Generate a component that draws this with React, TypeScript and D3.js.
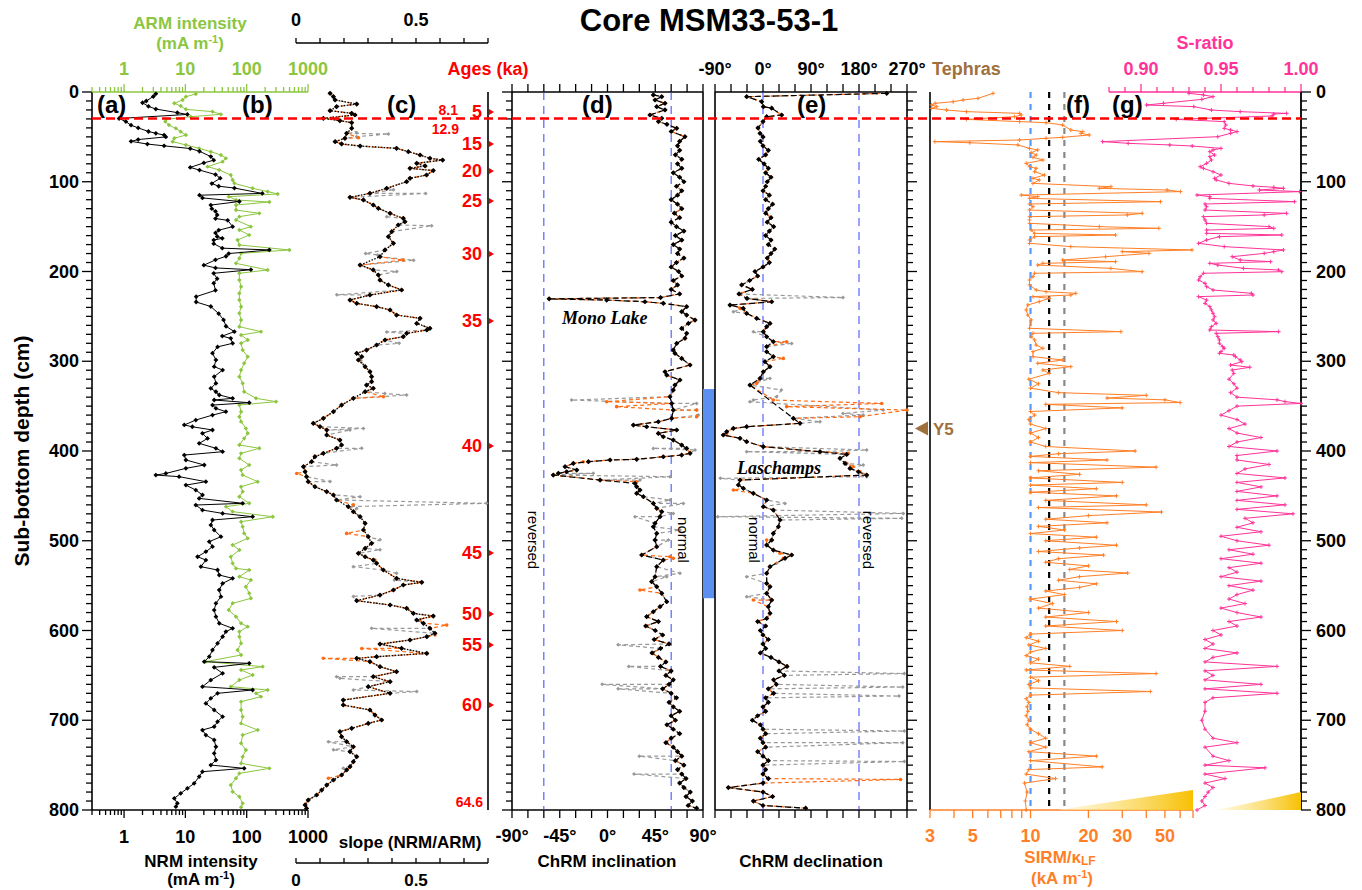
import React from "react";
import * as d3 from "d3";

const FONT = "'Liberation Sans', Arial, sans-serif";

// ---------- DATA (depth cm, value) ----------
const nrmData = [[2,3.3],[5,3.0],[10,2.3],[12,2.0],[16,2.5],[19,3.3],[23,7.4],[25,10.8],[29.5,0.83],[33,1.07],[37,1.3],[40,1.7],[44,2.5],[46,3.3],[48,4.5],[50,4.8],[53,1.7],[55,1.3],[58,2.4],[60,4.5],[63,12],[66,17],[72,26],[76,29],[79,20],[84,12],[87,17],[92,31],[96,37],[102,27],[105,35],[107,63],[113,180],[115,17],[118,19],[122,76],[126,26],[130,27],[133,31],[137,33],[141,31],[143,49],[150,59],[154,35],[157,31],[161,33],[163,40],[165,29],[169,29],[174,40],[176,234],[180,51],[183,46],[187,31],[193,20],[196,31],[198,117],[202,29],[208,33],[213,29],[221,31],[228,15],[234,15],[239,26],[247,35],[254,42],[261,46],[267,63],[272,40],[274.5,55],[280,59],[284,33.5],[291,27.7],[298.6,31.5],[306,29.5],[309.8,40.5],[317.2,29.5],[324.6,31.5],[330.2,26],[334,31.5],[337.6,35.7],[341.3,59],[343.2,29.5],[346.2,110],[348.8,27.7],[352.5,31.5],[356.2,45.8],[360,27.7],[365.5,14.8],[371,9.6],[373,13],[376.6,27.7],[380.3,19],[386,23],[391.5,16.8],[397,31.5],[400.8,40.5],[404.5,9.6],[410,10.2],[415.6,20.3],[419.3,10.2],[425,4.8],[426.8,3.3],[428.6,7.9],[434.2,21.6],[438,10.2],[443.5,14.8],[449,19],[452.8,16.8],[458.3,86],[460.2,14.8],[465.8,19],[469.5,40.5],[473.2,125],[476.9,27.7],[482.5,26],[488,29.5],[495.5,38],[501,24.5],[506.6,27.7],[512.2,21.6],[517.8,15.8],[521.5,21.6],[528.9,17.9],[532.6,33.5],[538.2,35.7],[541.9,59],[547.5,40.5],[554.9,35.7],[562.3,38],[569.7,31.5],[577.2,29.5],[584.6,31.5],[592,35.7],[597.6,59],[601.3,45.8],[606.9,40.5],[614.3,33.5],[621.7,27.7],[629.2,24.5],[634.7,20.3],[636.6,110],[641,29.5],[647.7,40.5],[655.2,26],[662.6,19],[666.3,125],[670,33.5],[675.6,26],[681.2,21.6],[688.6,29.5],[696,40.5],[701.6,33.5],[707.2,29.5],[710.9,19],[716.5,21.6],[722,29.5],[729.5,31.5],[736.9,29.5],[744.3,31.5],[749.9,26],[753.6,91],[757.3,19],[762.9,16.8],[770.3,13.9],[775.9,10.8],[781.4,8.4],[787,6.6],[792.6,7.4],[796.3,7.0]];

const armData = [[2.2,14.8],[5.2,10.2],[8.9,9.0],[12.6,6.6],[15.6,8.4],[19.3,10.2],[21.9,27.7],[24.9,38],[27.5,12.3],[30.5,4.8],[33,4.7],[36.8,5.4],[40.5,7.0],[44.2,8.4],[47.9,10.2],[51.6,6.6],[55.3,6.2],[59,10.2],[62.8,16.8],[66.5,26],[70.2,38],[73.9,45.8],[77.6,40.5],[83.2,23],[86.9,35.7],[92.5,55],[98,59],[101.8,63],[107.3,125],[111,220],[113.6,320],[116.6,51],[120.3,67],[122.6,234],[125.9,67],[131.5,67],[135.2,161],[138.9,76],[142.6,67],[150,117],[153.8,76],[159.3,110],[164.9,71],[170.4,76],[176,497],[179.8,81],[185.3,76],[190.9,67],[198.3,220],[202,76],[209.5,76],[216.9,81],[224.3,76],[231.8,76],[239.2,81],[246.6,76],[254,81],[261.5,76],[267,171],[270.8,81],[276.3,104],[280,81],[287.5,86],[294.9,104],[302.3,91],[309.8,81],[317.2,76],[324.6,86],[333.9,91],[341.3,142],[345,301],[348.8,76],[356.2,81],[361.8,76],[367.3,81],[374.8,97],[380.3,104],[385.9,91],[393.3,76],[397,161],[402.6,81],[408.2,76],[415.6,110],[421.2,81],[426.8,86],[434.2,151],[439.8,81],[445.3,86],[450.9,76],[458.3,110],[462,46],[467.6,59],[473.2,266],[478.8,81],[484.3,86],[491.8,91],[497.3,104],[504.8,59],[510.3,76],[517.8,55],[525.2,59],[530.8,67],[532.6,110],[540,76],[543.8,117],[551.2,97],[558.6,110],[564.2,117],[569.7,59],[577.2,51],[584.6,67],[592,81],[595.7,104],[601.3,76],[606.9,76],[614.3,81],[621.7,71],[627.3,81],[634.7,21.6],[640.3,182],[644,81],[649.6,125],[655.2,76],[662.6,55],[666.3,220],[670,142],[673.7,171],[679.3,81],[688.6,81],[696,86],[703.5,81],[710.9,151],[716.5,86],[725.7,81],[733.2,97],[740.6,86],[748,81],[753.6,234],[759.2,76],[764.7,67],[772.2,55],[779.6,59],[785.2,76],[792.6,86],[797,81]];

const slopeData = [[1.5,0.142],[5.2,0.156],[8.9,0.163],[13.4,0.253],[16.3,0.169],[20.8,0.142],[23.8,0.232],[25.6,0.246],[29.3,0.114],[31.9,0.183],[34.2,0.232],[40.5,0.232],[46,0.211],[51.6,0.204],[55.3,0.163],[57.9,0.19],[60.2,0.267],[62.8,0.419],[66.5,0.468],[70.2,0.517],[73.9,0.558],[75.8,0.611],[79.5,0.503],[82.4,0.538],[85,0.475],[87.6,0.572],[92.5,0.544],[96.2,0.475],[99.9,0.461],[107.3,0.378],[112.9,0.308],[117.4,0.225],[120.3,0.281],[125.9,0.322],[129.6,0.343],[135.2,0.392],[140.8,0.447],[144.5,0.454],[148.2,0.426],[155.6,0.399],[161.2,0.385],[168.6,0.406],[176,0.371],[183.5,0.35],[192.8,0.267],[198.3,0.322],[203.9,0.343],[209.5,0.35],[215,0.385],[220.6,0.44],[226.2,0.308],[231.8,0.225],[235.5,0.253],[239.2,0.336],[242.9,0.392],[248.5,0.419],[252.2,0.517],[257.8,0.503],[263.3,0.558],[265.2,0.545],[268.9,0.461],[272.6,0.447],[276.3,0.371],[281.9,0.336],[287.5,0.294],[291.2,0.253],[294.9,0.274],[298.6,0.26],[306,0.288],[311.6,0.308],[317.2,0.315],[322.8,0.315],[326.5,0.294],[330.2,0.322],[333.9,0.288],[341.3,0.239],[348.8,0.19],[356.2,0.156],[363.6,0.114],[369.2,0.072],[372.9,0.1],[376.6,0.128],[382.2,0.128],[387.8,0.183],[393.3,0.19],[397,0.169],[402.6,0.114],[406.3,0.079],[411.9,0.065],[417.5,0.031],[423,0.038],[428.6,0.044],[434.2,0.051],[439.8,0.079],[445.3,0.128],[449,0.156],[454.6,0.169],[462,0.218],[467.6,0.239],[473.2,0.267],[480.6,0.288],[488,0.281],[495.5,0.301],[502.9,0.315],[508.5,0.288],[514,0.26],[517.8,0.288],[521.5,0.322],[525.2,0.336],[532.6,0.364],[541.9,0.419],[546.3,0.524],[549.3,0.447],[554.9,0.406],[560.5,0.35],[566.8,0.253],[571.6,0.392],[575.3,0.461],[580.9,0.489],[583.9,0.572],[588.3,0.503],[592,0.531],[597.6,0.558],[603.2,0.579],[606.9,0.545],[610.6,0.475],[615.1,0.35],[619.9,0.44],[625.5,0.545],[629.2,0.336],[631,0.253],[634.7,0.308],[640.3,0.35],[645.9,0.419],[651.5,0.322],[657,0.392],[662.6,0.301],[670,0.392],[677.5,0.197],[683,0.197],[688.6,0.308],[694.2,0.329],[699.7,0.357],[703.5,0.301],[709,0.232],[712.7,0.183],[718.3,0.19],[723.9,0.211],[729.5,0.239],[735,0.225],[740.6,0.253],[746.2,0.239],[751.7,0.225],[755.4,0.211],[761,0.19],[766.6,0.156],[772.2,0.128],[777.8,0.107],[783.3,0.086],[788.9,0.051],[794.4,0.038],[798.2,0.044]];
const slopeOrangeDev = [[51,0.26],[187.2,0.447],[339.5,0.364],[425,0.003],[460,0.239],[491.8,0.211],[521.5,0.329],[588.3,0.517],[594,0.628],[605,0.579],[620,0.274],[631,0.114],[764.7,0.135]];
const slopeGreyDev = [[45.3,0.253],[46.8,0.385],[49.8,0.253],[109,0.406],[113,0.54],[139,0.378],[149,0.565],[180,0.29],[181.5,0.34],[187.5,0.49],[200,0.42],[226,0.17],[267.5,0.378],[280,0.43],[299,0.27],[336,0.37],[337.6,0.461],[374.8,0.281],[376.6,0.225],[397,0.274],[415.6,0.169],[434,0.142],[451,0.267],[458.3,0.794],[464,0.253],[499,0.35],[510,0.35],[528.9,0.239],[536.3,0.419],[543.8,0.41],[562,0.239],[597.6,0.315],[651.5,0.169],[653.3,0.183],[666.3,0.239],[668,0.503],[724,0.135],[733,0.156],[753.6,0.197]];

const incData = [[3.3,43.2],[5.2,51.1],[8.9,44.8],[12.6,54.2],[16.3,46.4],[20,54.2],[25.6,40],[29.3,51.1],[33,48],[36,56],[40.5,65.2],[44,60],[49.8,73],[55,68],[60,66],[65,68],[70,64],[75,70],[80,66],[85,70],[90,62],[95,68],[100,72],[105,65],[110,70],[115,66],[120,60],[125,66],[130,70],[135,63],[140,68],[145,60],[150,65],[155,72],[160,64],[165,70],[170,62],[175,68],[180,66],[185,72],[190,65],[195,60],[200,67],[205,70],[210,62],[215,66],[220,60],[225,68],[229,50],[230.5,-55],[231.8,-0.8],[233.7,35.3],[235.5,52.6],[239.2,74.6],[244.8,69.9],[248.5,74.6],[254.1,82.5],[257.8,76.2],[263.4,69.9],[268.9,74.6],[274.5,73],[280.1,65.2],[287.5,62],[291.2,63.6],[296.8,69.9],[304.2,77.8],[311.7,54.2],[315.4,55.8],[320.9,68.3],[326.5,63.6],[332.1,62],[339.5,58.9],[347,60.5],[354.4,62],[363.6,60.5],[367.4,47.9],[371.1,24.4],[373,36.9],[376.6,65.2],[380.4,47.9],[384.1,52.6],[387.8,62],[393.4,69.9],[397.1,74.6],[402.6,77.8],[404.5,69.9],[406.4,52.6],[409.3,27.5],[410,2.4],[411.9,-18],[413.8,-32.2],[417.5,-40],[421.2,-29],[423.1,-38.5],[424.9,-46.3],[426.8,-51.1],[432.4,-7],[436.1,25.9],[439.8,27.5],[443.5,30.6],[447.2,27.5],[450.9,33.8],[458.4,43.2],[463.9,46.4],[467.6,51.1],[473.2,49.5],[480.6,44.8],[484.4,43.2],[491.8,46.4],[499.2,44.8],[506.6,46.4],[515.9,32.2],[521.5,52.6],[528.9,46.4],[540.1,44.8],[545.6,41.6],[551.2,46.4],[558.6,51.1],[567.9,55.8],[573.5,49.5],[579.1,43.2],[584.6,36.9],[590,48],[595,36],[600,45],[605,52],[610,44],[615,58],[620,50],[625,42],[630,48],[635,55],[640,50],[645,60],[650,55],[655,62],[660,58],[665,52],[670,60],[675,65],[680,58],[685,62],[690,68],[695,60],[700,64],[705,56],[710,62],[715,68],[720,60],[725,55],[730,62],[735,66],[740,70],[745,64],[750,72],[755,66],[760,70],[765,74],[770,68],[775,72],[780,78],[785,74],[790,80],[795,76],[798,84]];
const incOrangeDev = [[345.1,-0.8],[350.6,8.6],[354.4,84],[361.8,84],[411.9,-22.8],[413.8,-32.2],[434.2,27.5],[517.8,58.9],[519.6,62],[554.9,30.6]];
const incGreyDev = [[343.2,-33.8],[347,84],[354.4,84],[359.9,85.6],[397.1,43.2],[398.9,82.5],[424.9,-13.4],[428.6,58.9],[432.4,30.6],[454.6,58.9],[458.4,71.5],[469.5,62],[473.2,25.9],[488.1,68.3],[499.2,57.3],[536.3,68.3],[540.1,55.8],[616,10],[640,20],[660,-5],[665,10],[740,30],[760,25]];

const decData = [[1.5,232],[5.2,-30.6],[10.8,-2.5],[16.3,0.6],[18,16.3],[25.6,35],[27.5,7],[33,0],[40,-9.4],[46,-5.6],[50,0],[55,-5],[60,0],[65,10],[70,5],[75,-8],[80,2],[85,10],[90,5],[95,15],[100,8],[105,5],[110,0],[115,12],[120,5],[125,18],[130,10],[135,5],[140,15],[145,8],[150,20],[155,12],[160,5],[165,15],[170,10],[175,22],[180,15],[185,8],[190,12],[195,0],[200,-15],[205,-10],[210,-25],[215,-40],[220,-20],[225,-45],[230,-30],[233.7,16.3],[237.4,-61.9],[241.1,-36.9],[246.7,-30.6],[252.2,-11.9],[257.8,13.1],[261.5,6.9],[267.1,0.6],[272.7,6.9],[278.2,19.4],[283.8,6.9],[289.4,6.9],[294.9,19.4],[300.5,3.7],[306.1,13.1],[311.7,0.6],[319.1,-5.6],[326.5,-24.4],[363.6,56.9],[369.2,69.4],[372.9,-30.6],[374.8,-55.6],[378.5,-68.1],[382.2,-74.4],[385.9,-43.1],[389.6,-30.6],[395.2,0.6],[400.8,106.9],[403.8,156.9],[408.2,144.4],[413.8,153.8],[419.4,163.1],[423.1,178.8],[426.8,194.4],[432.4,-43.1],[437.9,-46.2],[441.6,-36.9],[447.2,-18.1],[454.6,6.9],[462.1,0.6],[465.8,19.4],[476.9,31.9],[484.4,28.8],[491.8,19.4],[499.2,16.3],[504.8,6.9],[510.4,19.4],[515.9,53.8],[519.6,41.3],[528.9,13.1],[536.3,6.9],[547.5,6.9],[551.2,13.1],[558.6,6.9],[566.1,16.3],[573.5,10],[580.9,13.1],[586.5,6.9],[590,-10],[595,5],[600,-5],[605,0],[610,10],[615,0],[620,5],[625,-5],[630,15],[635,30],[640,45],[645,30],[650,40],[655,20],[660,25],[665,10],[670,20],[675,5],[680,10],[685,0],[690,5],[695,-10],[700,-20],[705,-5],[710,0],[715,5],[720,-5],[725,0],[730,5],[735,-10],[740,0],[745,10],[750,0],[755,5],[760,0],[765,10],[770,0],[775,-65],[780,0],[785,18],[790,-18],[795,0],[798,80]];
const decOrangeDev = [[241.1,-43],[278.2,44.4],[296.8,38.1],[324.6,-11.9],[343.2,19.4],[347,222.5],[350.6,44.4],[354.4,270],[361.8,181.9],[380.4,-68.1],[402.6,160],[413.8,157],[417.5,169],[423.1,182],[443.5,-55.6],[491.8,19.4],[499.2,6.9],[514,31.9],[519.6,38.1],[566.1,-18.1],[766,258]];
const decGreyDev = [[229,150],[244.8,-55.6],[267.1,-18.1],[280.1,53.8],[319.1,13.1],[332.1,34.4],[339.5,25.6],[343.2,-18.1],[345.1,-24.4],[354.4,225.6],[358.1,150],[359.9,188],[367.4,106.9],[398.9,194.4],[400.8,-30.6],[415.6,188],[428.6,194.4],[430.5,-80],[458.4,41.3],[469.5,263],[473.2,-85],[475,260],[525.2,25.6],[540.1,-30.6],[562.3,-30.6],[648,265],[663,262],[673,255],[712,265],[725,262],[746,265]];

const sirmData = [[1.5,6.38],[7.1,5.33],[8.9,4.46],[10.8,3.96],[12.6,3.19],[14.5,3.06],[16.3,3.25],[18.2,3.06],[20.1,3.66],[21.9,4.64],[23.8,8.77],[25.6,8.95],[27.5,8.26],[30.5,4.64],[33,8.77],[34.2,12.05],[36.8,14.7],[42.3,16.2],[44.2,18.7],[46,18.3],[47.9,20.2],[50.5,14.7],[51.6,12.05],[53.5,8.77],[55.3,3.18],[56.5,4.83],[59,8.6],[62.8,9.88],[64.6,10.9],[67.6,10.08],[70.2,10.7],[72.8,10.3],[75.8,11.6],[79.5,9.5],[83.2,9.88],[85,10.7],[88.8,10.5],[92.5,11.8],[96.2,10.3],[98,11.1],[101.8,10.3],[105.5,26.2],[107.3,22.8],[109.2,51.4],[111,60.2],[114.8,8.95],[116.6,10.9],[118.5,9.88],[122.2,47.4],[124.8,9.88],[127.8,10.3],[131.5,9.88],[135.2,38.1],[137,31.9],[138.9,9.88],[142.6,9.88],[146.3,9.88],[150,22.8],[151.9,46.5],[153.8,10.08],[157.5,10.5],[159.3,27.7],[161.2,10.5],[164.9,9.88],[168.6,9.88],[172.3,16.2],[176,69.2],[177.9,30],[179.8,41.3],[183.5,24.6],[187.2,14.7],[189,27.7],[190.9,11.6],[192.8,10.9],[196.5,26.2],[200.2,38.1],[202,10.5],[205.8,10.3],[209.5,9.88],[215,9.88],[220.6,10.7],[222.5,12.05],[224.3,17.2],[226.2,16.2],[228,10.3],[229.9,12.5],[233.6,11.1],[237.3,9.68],[242.9,9.5],[248.5,9.68],[254,10.08],[263.3,9.88],[267,29.5],[268.9,10.3],[272.6,10.08],[276.3,10.5],[281.9,10.7],[285.6,11.6],[289.3,10.3],[294.9,10.3],[298.6,14.7],[302.3,10.9],[306,16.2],[309.8,11.6],[313.5,12.5],[320,9.8],[325,11],[330,10],[335,14],[338,40],[341,25],[343,50],[346,60],[348,12],[352,30],[356,10],[360,10.5],[365,9.8],[370,10],[375,12],[380,10],[385,11],[390,10],[395,12],[400,35],[403,14],[406,10],[410,25],[413,10],[418,45],[422,11],[426,18],[430,10],[435,30],[438,10],[442,22],[446,10],[450,28],[455,12],[460,40],[463,11],[468,48],[472,20],[476,12],[480,25],[484,11],[488,15],[492,10],[496,22],[500,12],[505,28],[508,18],[512,11],[516,24],[520,14],[524,12],[528,20],[532,16],[536,32],[540,18],[544,14],[548,22],[552,18],[556,12],[560,15],[565,10],[570,13],[575,11],[580,20],[585,12],[590,28],[595,12],[600,30],[604,10],[608,9.5],[612,11],[616,9.8],[620,12],[624,10],[628,9.5],[632,11],[636,10],[640,16],[644,9.5],[648,45],[652,10],[656,11],[660,9.8],[664,10],[668,42],[672,10],[676,9.5],[680,9.8],[685,9.6],[690,9.7],[695,9.5],[700,9.8],[705,9.6],[710,10],[715,11],[720,12],[725,10],[730,12],[735,9.8],[740,22],[745,10],[752,23.6],[755,9.8],[760,9.5],[765,13.5],[770,9.3],[780,9.6],[790,9.4],[800,9.5]];

const sRatioData = [[1.5,0.930],[3.3,0.939],[5.2,0.945],[8.2,0.938],[12.6,0.914],[14.5,0.9035],[16.3,0.933],[20.1,0.944],[21.9,0.962],[23.8,0.991],[24.5,0.983],[26.7,0.982],[30.5,0.922],[33,0.952],[36.8,0.953],[40.5,0.952],[42.3,0.956],[44.2,0.960],[46,0.956],[49.8,0.948],[55.3,0.876],[57.2,0.892],[59,0.918],[60.2,0.932],[62.8,0.950],[64.6,0.945],[66.5,0.943],[70.2,0.946],[72,0.943],[75.8,0.944],[79.5,0.941],[83.2,0.937],[85,0.939],[88.8,0.945],[92.5,0.950],[96.2,0.946],[98,0.947],[101.8,0.955],[104.7,0.970],[106.2,0.983],[107.3,0.989],[109.2,0.974],[111,0.999],[114.8,0.935],[116.6,0.943],[118.5,0.943],[122.2,0.996],[124.8,0.940],[127.8,0.941],[131.5,0.940],[135.2,0.991],[137,0.977],[138.9,0.939],[142.6,0.940],[146.3,0.941],[150,0.980],[151.9,0.983],[153.8,0.941],[157.5,0.941],[159.3,0.988],[161.2,0.949],[164.9,0.941],[168.6,0.936],[172.3,0.952],[176,0.989],[177.9,0.983],[179.8,0.977],[183.5,0.957],[187.2,0.962],[189,0.981],[190.9,0.943],[192.8,0.948],[196.5,0.964],[198.3,0.986],[200.2,0.988],[202,0.939],[205.8,0.937],[209.5,0.936],[213.2,0.940],[216.9,0.941],[220.6,0.945],[224.3,0.969],[226.2,0.970],[228,0.936],[231.8,0.941],[235.5,0.940],[239.2,0.943],[242.9,0.944],[246.6,0.945],[250.4,0.946],[254,0.945],[257.8,0.947],[261.5,0.944],[265.2,0.943],[267,0.986],[268.9,0.947],[272.6,0.948],[276.3,0.949],[279.9,0.949],[283.7,0.951],[285.6,0.952],[289.3,0.950],[291.1,0.949],[293.1,0.958],[294.9,0.959],[298.6,0.962],[300.5,0.963],[304.2,0.956],[306.7,0.968],[309.8,0.957],[313.5,0.958],[320,0.955],[325,0.958],[330,0.96],[335,0.956],[340,0.96],[343,0.985],[345,0.99],[347,1.0],[350,0.96],[355,0.955],[360,0.95],[365,0.96],[370,0.965],[375,0.955],[380,0.96],[385,0.975],[390,0.96],[395,0.955],[400,0.985],[405,0.96],[410,0.96],[415,0.98],[420,0.965],[425,0.96],[430,0.99],[435,0.96],[440,0.975],[445,0.96],[450,0.985],[455,0.96],[460,0.99],[465,0.96],[470,0.995],[475,0.965],[480,0.97],[485,0.96],[490,0.975],[495,0.95],[500,0.96],[505,0.98],[510,0.955],[515,0.97],[520,0.95],[525,0.975],[530,0.955],[535,0.96],[540,0.95],[545,0.975],[550,0.955],[555,0.97],[560,0.96],[565,0.955],[570,0.965],[575,0.95],[580,0.96],[585,0.975],[590,0.955],[595,0.96],[600,0.945],[605,0.95],[610,0.94],[615,0.945],[620,0.94],[625,0.96],[630,0.945],[635,0.94],[640,0.985],[645,0.94],[650,0.945],[655,0.94],[660,0.975],[665,0.94],[670,0.985],[675,0.945],[680,0.94],[690,0.94],[700,0.938],[710,0.94],[720,0.945],[725,0.96],[730,0.94],[740,0.945],[745,0.955],[750,0.94],[753,0.9775],[760,0.94],[765,0.9525],[770,0.94],[775,0.945],[780,0.942],[785,0.94],[790,0.938],[795,0.94],[800,0.935]];

const ageTicks = [[22.3,"5"],[57.9,"15"],[88,"20"],[121.4,"25"],[180.5,"30"],[255.2,"35"],[394.4,"40"],[513.6,"45"],[581.6,"50"],[616.2,"55"],[683,"60"]];
const depthLabels = [0,100,200,300,400,500,600,700,800];
const logLabelsAB = [1,10,100,1000];
const slopeLabels = [0,0.5];
const incLabels = [-90,-45,0,45,90];
const decLabels = [-90,0,90,180,270];
const sirmLabels = [3,5,10,20,30,50];
const sRatioLabels = [0.90,0.95,1.00];
const hiatusDepth = 29.5;
const excursionBar = [331,564];
const y5Depth = 375;

// ---------- SCALES ----------
const yS = d3.scaleLinear().domain([0, 800]).range([92, 810]);
const xAB = d3.scaleLog().domain([0.3, 1000]).range([92, 308]);
const xC = d3.scaleLinear().domain([0, 0.8]).range([296, 488]);
const xD = d3.scaleLinear().domain([-90, 90]).range([512, 703]);
const xE = d3.scaleLinear().domain([-90, 270]).range([715, 907]);
const xF = d3.scaleLog().domain([3, 70]).range([930, 1193]);
const xG = d3.scaleLinear().domain([0.88, 1.0]).range([1109, 1301]);

const merge = (a, b) => [...a, ...b].sort((p, q) => p[0] - q[0]);

function diamond(cx, cy, r) {
  return `M${cx},${cy - r}L${cx + r},${cy}L${cx},${cy + r}L${cx - r},${cy}Z`;
}

function Series({ data, xs, stroke, width = 1, dash, marker = "dot", msize = 1.4 }) {
  const line = d3.line().x((d) => xs(d[1])).y((d) => yS(d[0]));
  return (
    <g>
      <path d={line(data) || ""} fill="none" stroke={stroke} strokeWidth={width} strokeDasharray={dash} />
      {data.map((d, i) =>
        marker === "diamond" ? (
          <path key={i} d={diamond(xs(d[1]), yS(d[0]), msize)} fill={stroke} />
        ) : marker === "plus" ? (
          <path key={i} d={`M${xs(d[1]) - msize},${yS(d[0])}h${2 * msize}M${xs(d[1])},${yS(d[0]) - msize}v${2 * msize}`} stroke={stroke} strokeWidth={1} />
        ) : (
          <circle key={i} cx={xs(d[1])} cy={yS(d[0])} r={msize} fill={stroke} />
        )
      )}
    </g>
  );
}

function DepthTicks({ x, dir, color = "#000" }) {
  const t = d3.range(0, 801, 10);
  return (
    <g stroke={color} strokeWidth={1.3}>
      {t.map((v) => (
        <line key={v} x1={x} x2={x + dir * (v % 100 === 0 ? 10 : 6)} y1={yS(v)} y2={yS(v)} />
      ))}
    </g>
  );
}

function HTicks({ values, xs, y, dir, major, color }) {
  return (
    <g stroke={color} strokeWidth={1.3}>
      {values.map((v, i) => (
        <line key={i} x1={xs(v)} x2={xs(v)} y1={y} y2={y + dir * (major(v) ? 8 : 5)} />
      ))}
    </g>
  );
}

const logMinor = (lo, hi) => {
  const out = [];
  for (let e = -1; e <= 3; e++) for (let m = 1; m <= 9; m++) {
    const v = m * Math.pow(10, e);
    if (v >= lo - 1e-9 && v <= hi + 1e-9) out.push(+v.toPrecision(3));
  }
  return out;
};

export default function App() {
  const green = "#8cc63f";
  const pink = "#ff3399";
  const orange = "#ff6a13";
  const orangeF = "#ff7f27";
  const grey = "#999999";
  const red = "#ff0000";
  const brown = "#a0703c";
  const abTicks = logMinor(0.3, 1000);
  const fTicks = logMinor(3, 70);
  const isPow10 = (v) => Math.abs(Math.log10(v) - Math.round(Math.log10(v))) < 1e-6;
  const lbl = { fontFamily: FONT, fontWeight: 700 };
  const TK = 18;

  return (
    <svg width={1362} height={890} style={{ position: "absolute", left: 0, top: 0, background: "#fff" }}>
      <defs>
        <linearGradient id="gold" x1="0" x2="1" y1="0" y2="0">
          <stop offset="0" stopColor="#fff6d0" stopOpacity="0.6" />
          <stop offset="1" stopColor="#f7c000" />
        </linearGradient>
      </defs>
      <rect x={0} y={0} width={1362} height={890} fill="#fff" />

      {/* Title */}
      <text x={709} y={31} textAnchor="middle" fontSize={31} {...lbl}>Core MSM33-53-1</text>

      {/* Depth axis left */}
      <line x1={92} x2={92} y1={92} y2={810} stroke="#000" strokeWidth={1.6} />
      <DepthTicks x={92} dir={-1} />
      {depthLabels.map((v) => (
        <text key={v} x={79} y={yS(v) + 6} textAnchor="end" fontSize={TK} {...lbl}>{v}</text>
      ))}
      <text transform="translate(29,451) rotate(-90)" textAnchor="middle" fontSize={21} {...lbl}>Sub-bottom depth (cm)</text>

      {/* Panel a/b axes */}
      <line x1={92} x2={308} y1={92} y2={92} stroke={green} strokeWidth={1.6} />
      <HTicks values={abTicks} xs={xAB} y={92} dir={-1} major={isPow10} color={green} />
      {logLabelsAB.map((v) => (
        <text key={v} x={xAB(v)} y={75} textAnchor="middle" fontSize={TK} fill={green} {...lbl}>{v}</text>
      ))}
      <text x={190} y={29} textAnchor="middle" fontSize={17} fill={green} {...lbl}>ARM intensity</text>
      <text x={190} y={49} textAnchor="middle" fontSize={17} fill={green} {...lbl}>(mA m<tspan fontSize={11} dy={-6}>-1</tspan><tspan dy={6}>)</tspan></text>
      <line x1={92} x2={308} y1={810} y2={810} stroke="#000" strokeWidth={1.6} />
      <HTicks values={abTicks} xs={xAB} y={810} dir={1} major={isPow10} color="#000" />
      {logLabelsAB.map((v) => (
        <text key={v} x={xAB(v)} y={843} textAnchor="middle" fontSize={TK} {...lbl}>{v}</text>
      ))}
      <text x={201} y={867} textAnchor="middle" fontSize={17} {...lbl}>NRM intensity</text>
      <text x={201} y={885} textAnchor="middle" fontSize={17} {...lbl}>(mA m<tspan fontSize={11} dy={-6}>-1</tspan><tspan dy={6}>)</tspan></text>

      {/* Panel c axes */}
      <line x1={296} x2={488} y1={43} y2={43} stroke="#000" strokeWidth={1.4} />
      <HTicks values={d3.range(0, 0.81, 0.1)} xs={xC} y={43} dir={-1} major={() => false} color="#000" />
      {slopeLabels.map((v) => (
        <text key={v} x={xC(v)} y={26} textAnchor="middle" fontSize={TK} {...lbl}>{v}</text>
      ))}
      <line x1={296} x2={488} y1={863} y2={863} stroke="#000" strokeWidth={1.4} />
      <HTicks values={d3.range(0, 0.81, 0.1)} xs={xC} y={863} dir={-1} major={() => false} color="#000" />
      {slopeLabels.map((v) => (
        <text key={v} x={xC(v)} y={886} textAnchor="middle" fontSize={17} {...lbl}>{v}</text>
      ))}
      <text x={410} y={848} textAnchor="middle" fontSize={17} {...lbl}>slope (NRM/ARM)</text>

      {/* Ages axis */}
      <line x1={488} x2={488} y1={92} y2={810} stroke="#000" strokeWidth={1.6} />
      <text x={488} y={75} textAnchor="middle" fontSize={TK} fill={red} {...lbl}>Ages (ka)</text>
      {ageTicks.map(([d, t]) => (
        <g key={t}>
          <text x={482} y={yS(d) + 6} textAnchor="end" fontSize={TK} fill={red} {...lbl}>{t}</text>
          <path d={`M489,${yS(d) - 3}L494,${yS(d)}L489,${yS(d) + 3}Z`} fill={red} />
        </g>
      ))}
      <text x={458} y={115} textAnchor="end" fontSize={14} fill={red} {...lbl}>8.1</text>
      <text x={459} y={134} textAnchor="end" fontSize={14} fill={red} {...lbl}>12.9</text>
      <text x={483} y={807} textAnchor="end" fontSize={14} fill={red} {...lbl}>64.6</text>

      {/* Panel d frame */}
      <line x1={512} x2={512} y1={92} y2={810} stroke="#000" strokeWidth={1.6} />
      <DepthTicks x={512} dir={-1} />
      <line x1={703} x2={703} y1={92} y2={810} stroke="#000" strokeWidth={1.6} />
      <line x1={512} x2={703} y1={92} y2={92} stroke="#000" strokeWidth={1.6} />
      <line x1={512} x2={703} y1={810} y2={810} stroke="#000" strokeWidth={1.6} />
      <HTicks values={d3.range(-90, 91, 15)} xs={xD} y={92} dir={-1} major={() => true} color="#000" />
      <HTicks values={d3.range(-90, 91, 15)} xs={xD} y={810} dir={1} major={() => true} color="#000" />
      {incLabels.map((v) => (
        <text key={v} x={xD(v)} y={842} textAnchor="middle" fontSize={TK} {...lbl}>{v}°</text>
      ))}
      <text x={607} y={867} textAnchor="middle" fontSize={17} {...lbl}>ChRM inclination</text>
      <line x1={xD(-60)} x2={xD(-60)} y1={92} y2={810} stroke="#3344ff" strokeWidth={1} strokeDasharray="8,6" />
      <line x1={xD(60)} x2={xD(60)} y1={92} y2={810} stroke="#3344ff" strokeWidth={1} strokeDasharray="8,6" />

      {/* Excursion bar */}
      <rect x={703} y={yS(excursionBar[0])} width={12} height={yS(excursionBar[1]) - yS(excursionBar[0])} fill="#5b8ff0" />

      {/* Panel e frame */}
      <line x1={715} x2={715} y1={92} y2={810} stroke="#000" strokeWidth={1.6} />
      <line x1={907} x2={907} y1={92} y2={810} stroke="#000" strokeWidth={1.6} />
      <DepthTicks x={907} dir={1} />
      <line x1={715} x2={907} y1={92} y2={92} stroke="#000" strokeWidth={1.6} />
      <line x1={715} x2={907} y1={810} y2={810} stroke="#000" strokeWidth={1.6} />
      <HTicks values={d3.range(-90, 271, 30)} xs={xE} y={92} dir={-1} major={() => true} color="#000" />
      <HTicks values={d3.range(-90, 271, 30)} xs={xE} y={810} dir={1} major={() => true} color="#000" />
      {decLabels.map((v) => (
        <text key={v} x={xE(v)} y={75} textAnchor="middle" fontSize={TK} {...lbl}>{v}°</text>
      ))}
      <text x={811} y={867} textAnchor="middle" fontSize={17} {...lbl}>ChRM declination</text>
      <line x1={xE(0)} x2={xE(0)} y1={92} y2={810} stroke="#3344ff" strokeWidth={1} strokeDasharray="8,6" />
      <line x1={xE(180)} x2={xE(180)} y1={92} y2={810} stroke="#3344ff" strokeWidth={1} strokeDasharray="8,6" />

      {/* Panel f frame */}
      <line x1={930} x2={930} y1={92} y2={810} stroke="#000" strokeWidth={1.6} />
      <line x1={930} x2={1193} y1={810} y2={810} stroke={orangeF} strokeWidth={1.6} />
      <HTicks values={fTicks} xs={xF} y={810} dir={1} major={() => true} color={orangeF} />
      {sirmLabels.map((v) => (
        <text key={v} x={xF(v)} y={842} textAnchor="middle" fontSize={TK} fill={orangeF} {...lbl}>{v}</text>
      ))}
      <text x={1060} y={863} textAnchor="middle" fontSize={17} fill={orangeF} {...lbl}>SIRM/κ<tspan fontSize={12} dy={2}>LF</tspan></text>
      <text x={1062} y={884} textAnchor="middle" fontSize={17} fill={orangeF} {...lbl}>(kA m<tspan fontSize={11} dy={-6}>-1</tspan><tspan dy={6}>)</tspan></text>
      <text x={932} y={75} fontSize={TK} fill={brown} {...lbl}>Tephras</text>
      <path d={`M1193,810L1057,810L1193,790Z`} fill="url(#gold)" />
      <line x1={xF(10)} x2={xF(10)} y1={92} y2={810} stroke="#5599ff" strokeWidth={2.2} strokeDasharray="6,6" />
      <line x1={xF(12.5)} x2={xF(12.5)} y1={92} y2={810} stroke="#000" strokeWidth={2.2} strokeDasharray="6,6" />
      <line x1={xF(15)} x2={xF(15)} y1={92} y2={810} stroke="#888" strokeWidth={2.2} strokeDasharray="6,6" />

      {/* Panel g axes */}
      <line x1={1109} x2={1301} y1={92} y2={92} stroke={pink} strokeWidth={1.6} />
      <HTicks values={d3.range(0.88, 1.0001, 0.01)} xs={xG} y={92} dir={-1} major={(v) => Math.abs(v * 100 - Math.round(v * 20) * 5) < 0.01} color={pink} />
      {sRatioLabels.map((v) => (
        <text key={v} x={xG(v)} y={75} textAnchor="middle" fontSize={TK} fill={pink} {...lbl}>{v.toFixed(2)}</text>
      ))}
      <text x={1205} y={49} textAnchor="middle" fontSize={TK} fill={pink} {...lbl}>S-ratio</text>
      <line x1={1301} x2={1301} y1={92} y2={810} stroke="#000" strokeWidth={1.8} />
      <DepthTicks x={1301} dir={1} />
      {depthLabels.map((v) => (
        <text key={v} x={1316} y={yS(v) + 6} fontSize={TK} {...lbl}>{v}</text>
      ))}
      <path d={`M1301,810L1217,810L1301,792Z`} fill="url(#gold)" />

      {/* Data series */}
      <Series data={armData} xs={xAB} stroke={green} marker="diamond" msize={2.2} />
      <Series data={nrmData} xs={xAB} stroke="#000" marker="diamond" msize={2.4} />

      <Series data={merge(slopeData, slopeGreyDev)} xs={xC} stroke={grey} dash="4,3" marker="diamond" msize={2} width={1.2} />
      <Series data={merge(slopeData, slopeOrangeDev)} xs={xC} stroke={orange} dash="4,3" marker="dot" msize={1.8} width={1.2} />
      <Series data={slopeData} xs={xC} stroke="#000" dash="1.5,1.5" marker="diamond" msize={2.6} width={1.3} />

      <Series data={merge(incData, incGreyDev)} xs={xD} stroke={grey} dash="4,3" marker="diamond" msize={2} width={1.2} />
      <Series data={merge(incData, incOrangeDev)} xs={xD} stroke={orange} dash="4,3" marker="dot" msize={1.8} width={1.2} />
      <Series data={incData} xs={xD} stroke="#000" dash="6,3" marker="diamond" msize={2.6} width={1.2} />

      <Series data={merge(decData, decGreyDev)} xs={xE} stroke={grey} dash="4,3" marker="diamond" msize={2} width={1.2} />
      <Series data={merge(decData, decOrangeDev)} xs={xE} stroke={orange} dash="4,3" marker="dot" msize={1.8} width={1.2} />
      <Series data={decData} xs={xE} stroke="#000" dash="6,3" marker="diamond" msize={2.6} width={1.2} />

      <Series data={sirmData} xs={xF} stroke={orangeF} marker="plus" msize={2} width={1} />
      <Series data={sRatioData} xs={xG} stroke={pink} marker="plus" msize={2} width={1} />

      {/* Annotations */}
      <text x={562} y={324} fontSize={18} fontStyle="italic" fontWeight={700} fontFamily="'Liberation Serif', 'Times New Roman', serif">Mono Lake</text>
      <text x={737} y={474} fontSize={18} fontStyle="italic" fontWeight={700} fontFamily="'Liberation Serif', 'Times New Roman', serif">Laschamps</text>
      <text transform="translate(528,540) rotate(90)" textAnchor="middle" fontSize={15} fontFamily={FONT}>reversed</text>
      <text transform="translate(678,540) rotate(90)" textAnchor="middle" fontSize={15} fontFamily={FONT}>normal</text>
      <text transform="translate(749,540) rotate(90)" textAnchor="middle" fontSize={15} fontFamily={FONT}>normal</text>
      <text transform="translate(863,540) rotate(90)" textAnchor="middle" fontSize={15} fontFamily={FONT}>reversed</text>

      {/* Y5 tephra */}
      <path d={`M915,${yS(y5Depth)}L928,${yS(y5Depth) - 7}L928,${yS(y5Depth) + 7}Z`} fill={brown} />
      <text x={933} y={yS(y5Depth) + 6} fontSize={17} fill={brown} {...lbl}>Y5</text>

      {/* Panel labels */}
      {[["(a)", 97], ["(b)", 242], ["(c)", 387], ["(d)", 582], ["(e)", 797], ["(f)", 1066], ["(g)", 1112]].map(([t, x]) => (
        <text key={t} x={x} y={113} fontSize={24} {...lbl}>{t}</text>
      ))}

      {/* Hiatus line */}
      <line x1={92} x2={1301} y1={yS(hiatusDepth)} y2={yS(hiatusDepth)} stroke={red} strokeWidth={2.6} strokeDasharray="9,5" />
    </svg>
  );
}
